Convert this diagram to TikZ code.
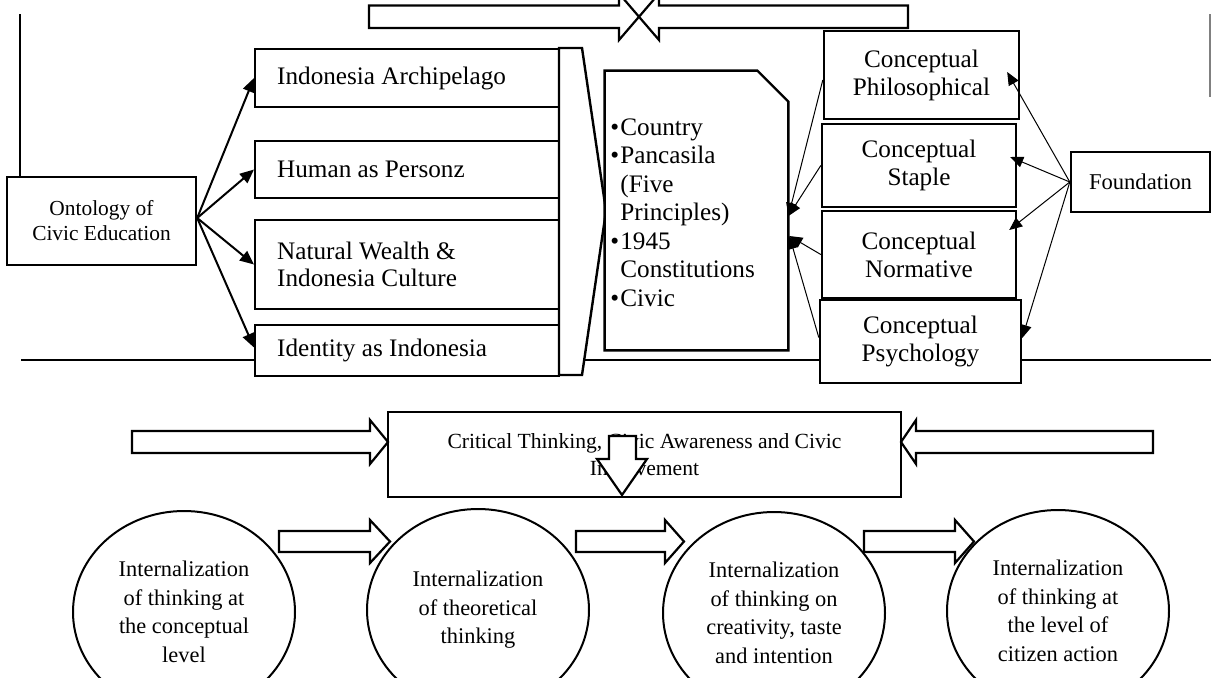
\documentclass[tikz,border=0pt]{standalone}
\usepackage{fontspec}
\setmainfont{Liberation Serif}
\usetikzlibrary{arrows.meta,calc,shapes.geometric}
\begin{document}
\begin{tikzpicture}[x=0.5pt,y=-0.5pt,
 bx/.style={draw,line width=1.2pt,fill=white,inner sep=0pt},
 lbox/.style={bx,anchor=west,text width=130pt,inner xsep=11pt,align=flush left,minimum width=152pt,font=\fontsize{12.6}{13.5}\selectfont},
 cbox/.style={bx,align=center,font=\fontsize{12.6}{14}\selectfont},
 ell/.style={draw,line width=1pt,fill=white,ellipse,minimum width=111pt,minimum height=101pt,inner sep=0pt,align=center,font=\fontsize{11.2}{14.25}\selectfont},
 blk/.style={draw,line width=1.1pt,fill=white,line join=miter},
 tharr/.style={line width=1pt,-{Triangle[length=7pt,width=6pt]}},
 tnarr/.style={line width=0.5pt,-{Triangle[length=6.5pt,width=5.5pt]}},
 guide/.style={line width=0.6pt}
]
\useasboundingbox (0,0) rectangle (1211,677);
\clip (0,0) rectangle (1211,677);

% guide lines
\draw[guide] (20,14) -- (20,177);
\draw[guide,gray] (1210,14) -- (1210,97);
\draw[guide] (21,360) -- (1211,360);

% top block arrows
\draw[blk] (369,5.5) -- (619,5.5) -- (619,-6.5) -- (639,16.75) -- (619,40) -- (619,28) -- (369,28) -- cycle;
\draw[blk] (908,5.5) -- (659,5.5) -- (659,-6.5) -- (639,16.75) -- (659,40) -- (659,28) -- (908,28) -- cycle;

% left boxes
\node[lbox,minimum height=29pt] (arch) at (254,78) {Indonesia Archipelago};
\node[lbox,minimum height=28.5pt] (human) at (254,169.5) {Human as Personz};
\node[lbox,minimum height=44.5pt] (nat) at (254,264.5) {Natural Wealth \&\\Indonesia Culture};
\node[lbox,minimum height=25.5pt] (ident) at (254,350.5) {Identity as Indonesia};

% chevron
\draw[blk,line width=1.2pt] (559,48) -- (582,48) -- (606,211) -- (582,375) -- (559,375) -- cycle;

% ontology
\node[cbox,minimum width=94.5pt,minimum height=44pt,font=\fontsize{10.7}{12.5}\selectfont] (onto) at (101.5,221) {Ontology of\\Civic Education};

% document
\node[minimum width=91.5pt,minimum height=139.5pt,inner sep=0pt] (doc) at (696.5,210.5) {};
\draw[line width=1.2pt,fill=white] (doc.south west) -- (doc.north west) -- ($(doc.north east)+(-31,0)$) -- ($(doc.north east)+(0,31)$) -- (doc.south east) -- cycle;
\node[anchor=west,align=left,inner sep=0pt,font=\fontsize{12.6}{14.25}\selectfont] (doctxt) at (610,212.5)
 {\makebox[5pt][l]{\textbullet}Country\\
  \makebox[5pt][l]{\textbullet}Pancasila\\
  \makebox[5pt][l]{}(Five\\
  \makebox[5pt][l]{}Principles)\\
  \makebox[5pt][l]{\textbullet}1945\\
  \makebox[5pt][l]{}Constitutions\\
  \makebox[5pt][l]{\textbullet}Civic};

% conceptual boxes
\node[cbox,minimum width=97.5pt,minimum height=44pt] (phil) at (921.5,75) {Conceptual\\Philosophical};
\node[cbox,minimum width=97pt,minimum height=41.5pt] (staple) at (919,165.5) {Conceptual\\Staple};
\node[cbox,minimum width=97pt,minimum height=43.5pt] (norm) at (919,254.5) {Conceptual\\Normative};
\node[cbox,minimum width=100.5pt,minimum height=41.5pt] (psych) at (920.5,341.5) {Conceptual\\Psychology};
\node[cbox,minimum width=69.5pt,minimum height=30pt,font=\fontsize{11.3}{13}\selectfont] (found) at (1140.5,182) {Foundation};

% ontology arrows
\coordinate (os) at ($(onto.east)+(0,-3)$);
\draw[tharr] (os) -- (arch.west);
\draw[tharr] (os) -- (human.west);
\draw[tharr] (os) -- (nat.west);
\draw[tharr] (os) -- ($(ident.west)+(0,-3)$);

% conceptual -> document
\coordinate (tipA) at ($(doc.east)+(0,5.5)$);
\coordinate (tipB) at ($(doc.east)+(1,25.5)$);
\draw[tnarr] ($(phil.west)+(0,5)$) -- (tipA);
\draw[tnarr] (staple.west) -- (tipA);
\draw[tnarr] (norm.west) -- (tipB);
\draw[tnarr] ($(psych.west)+(0,-4)$) -- (tipB);

% foundation -> conceptual
\draw[tnarr] (found.west) -- ($(phil.east)+(-13,-3)$);
\draw[tnarr] (found.west) -- ($(staple.east)+(-7,-8.5)$);
\draw[tnarr] (found.west) -- ($(norm.east)+(-8,-24.5)$);
\draw[tnarr] (found.west) -- ($(psych.east)+(0,-3.5)$);

% critical box
\node[cbox,minimum width=256.5pt,minimum height=42.5pt,font=\fontsize{10.8}{13.5}\selectfont] (crit) at (644.5,454.5) {Critical Thinking, Civic Awareness and Civic\\Involvement};
\draw[blk] (132,431) -- (370,431) -- (370,420) -- (388,442) -- (370,464) -- (370,453) -- (132,453) -- cycle;
\draw[blk] (1153,431) -- (916,431) -- (916,420) -- (901,442) -- (916,464) -- (916,453) -- (1153,453) -- cycle;
\draw[blk] (609,436) -- (636,436) -- (636,459) -- (647,459) -- (622,495) -- (597,459) -- (609,459) -- cycle;

% ellipses
\node[ell] (e1) at (184,612) {Internalization\\of thinking at\\the conceptual\\level};
\node[ell] (e2) at (478,610) {Internalization\\of theoretical\\thinking};
\node[ell] (e3) at (774,613) {Internalization\\of thinking on\\creativity, taste\\and intention};
\node[ell] (e4) at (1058,611) {Internalization\\of thinking at\\the level of\\citizen action};

% small block arrows
\draw[blk] (279,531) -- (370,531) -- (370,520) -- (390,541.5) -- (370,563) -- (370,552) -- (279,552) -- cycle;
\draw[blk] (576,531) -- (665,531) -- (665,520) -- (684,541.5) -- (665,563) -- (665,552) -- (576,552) -- cycle;
\draw[blk] (864,531) -- (955,531) -- (955,520) -- (974,541.5) -- (955,563) -- (955,552) -- (864,552) -- cycle;
\end{tikzpicture}
\end{document}
